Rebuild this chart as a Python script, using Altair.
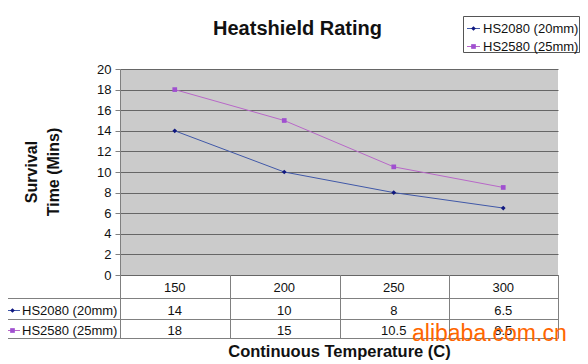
import altair as alt
import pandas as pd

# ---- data ----
temps = ["150", "200", "250", "300"]
series_names = ["HS2080 (20mm)", "HS2580 (25mm)"]
hs2080 = [14, 10, 8, 6.5]
hs2580 = [18, 15, 10.5, 8.5]
y_ticks = [0, 2, 4, 6, 8, 10, 12, 14, 16, 18, 20]

# ---- styles ----
line_colors = ["#4058A8", "#B868C8"]
marker_colors = ["#101880", "#A050D0"]
marker_shapes = ["diamond", "square"]
marker_sizes = [22, 22]
FONT = "Liberation Sans"
W, H = 438, 206
TABLE_LINE = "#808080"

rows = []
for name, vals in zip(series_names, [hs2080, hs2580]):
    for t, v in zip(temps, vals):
        rows.append({"series": name, "temp": t, "value": v, "label": f"{v:g}"})
df = pd.DataFrame(rows)
one = pd.DataFrame({"k": [0]})

x_enc = alt.X("temp:O", scale=alt.Scale(type="point", domain=temps, padding=0.5), axis=None)
y_enc = alt.Y(
    "value:Q",
    scale=alt.Scale(domain=[0, 20], nice=False, zero=True),
    axis=alt.Axis(
        values=y_ticks, tickSize=5, tickColor="#808080", domainColor="#808080",
        gridColor="#666666", grid=True, labelFontSize=13, labelFont=FONT,
        labelColor="#111111", labelPadding=4, title=None,
    ),
)

base = alt.Chart(df)

lines = base.mark_line(strokeWidth=1).encode(
    x=x_enc, y=y_enc,
    stroke=alt.Stroke("series:N", scale=alt.Scale(domain=series_names, range=line_colors), legend=None),
)
points = base.mark_point(filled=True, opacity=1, size=22).encode(
    x=x_enc, y=y_enc,
    fill=alt.Fill("series:N", scale=alt.Scale(domain=series_names, range=marker_colors), legend=None),
    shape=alt.Shape("series:N", scale=alt.Scale(domain=series_names, range=marker_shapes), legend=None),
)

layers = [lines, points]


def hrule(y, x1, x2, color=TABLE_LINE):
    return alt.Chart(one).mark_rule(color=color, strokeWidth=1).encode(
        x=alt.value(x1), x2=alt.value(x2), y=alt.value(y))


def vrule(x, y1, y2, color=TABLE_LINE):
    return alt.Chart(one).mark_rule(color=color, strokeWidth=1).encode(
        x=alt.value(x), y=alt.value(y1), y2=alt.value(y2))


def text(s, x, y, size=13, weight="normal", align="left", color="#111111", angle=0):
    return alt.Chart(one).mark_text(
        text=s, fontSize=size, fontWeight=weight, align=align, baseline="alphabetic",
        color=color, font=FONT, angle=angle,
    ).encode(x=alt.value(x), y=alt.value(y))


# ---- data table under the plot ----
row_tops = [229.5, 250.5, 269.5]
for yy in row_tops:
    layers.append(hrule(yy, -117, W + 0.5))
layers.append(vrule(-116.5, 229.5, 269.5))
for xx in [0.5, 110.5, 220.5, 329.5, 438.5]:
    layers.append(vrule(xx, H, 269.5))

header = alt.Chart(pd.DataFrame({"temp": temps})).mark_text(
    fontSize=13, font=FONT, baseline="alphabetic", color="#111111"
).encode(x=x_enc, text="temp:N", y=alt.value(223))
layers.append(header)

row_base = [246, 266]
for i, name in enumerate(series_names):
    vals_layer = base.transform_filter(alt.datum.series == name).mark_text(
        fontSize=13, font=FONT, baseline="alphabetic", color="#111111"
    ).encode(x=x_enc, text="label:N", y=alt.value(row_base[i]))
    layers.append(vals_layer)
    # row label with legend symbol
    cy = row_base[i] - 5
    layers.append(hrule(cy + 0.5, -115, -100, line_colors[i]))
    layers.append(alt.Chart(one).mark_point(
        filled=True, opacity=1, shape=marker_shapes[i], size=marker_sizes[i], color=marker_colors[i]
    ).encode(x=alt.value(-107.5), y=alt.value(cy + 0.5)))
    layers.append(text(name, -98, row_base[i]))

# ---- legend box ----
layers.append(alt.Chart(one).mark_rect(fill="white", stroke="#555555", strokeWidth=1).encode(
    x=alt.value(343.5), x2=alt.value(459.5), y=alt.value(-52.5), y2=alt.value(-16.5)))
leg_base = [-36, -18]
for i, name in enumerate(series_names):
    cy = leg_base[i] - 5
    layers.append(hrule(cy + 0.5, 347, 360, line_colors[i]))
    layers.append(alt.Chart(one).mark_point(
        filled=True, opacity=1, shape=marker_shapes[i], size=marker_sizes[i], color=marker_colors[i]
    ).encode(x=alt.value(353.5), y=alt.value(cy + 0.5)))
    layers.append(text(name, 363, leg_base[i]))

# ---- titles ----
layers.append(text("Heatshield Rating", 177.5, -34, size=20, weight="bold", align="center"))
layers.append(text("Survival", -83, 103, size=16, weight="bold", align="center", angle=270))
layers.append(text("Time (Mins)", -61, 103, size=16, weight="bold", align="center", angle=270))
layers.append(text("Continuous Temperature (C)", 219.5, 288, size=16.5, weight="bold", align="center"))

# ---- watermark ----
layers.append(text("alibaba.com.cn", 292, 272, size=23, color="#FF6600"))

chart = alt.layer(*layers).properties(
    width=W, height=H,
    autosize=alt.AutoSizeParams(type="none"),
    padding={"left": 112, "top": 61, "right": 22, "bottom": 88},
    background="white",
).configure_view(stroke=None, fill="#CBCBCB")

chart.save("out.html", embed_options={"renderer": "svg", "actions": False})
